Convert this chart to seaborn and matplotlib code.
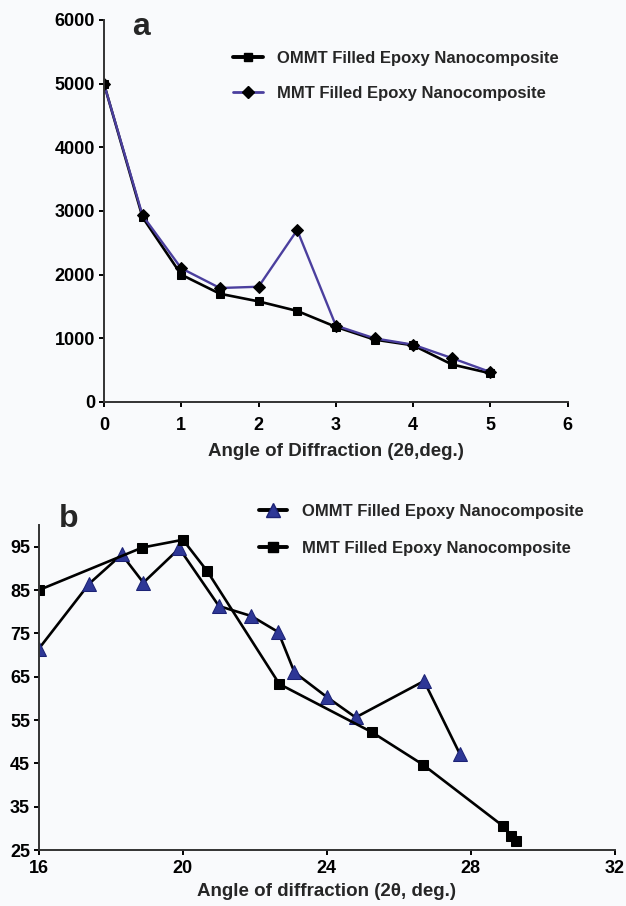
import numpy as np
import pandas as pd
import matplotlib
matplotlib.use("Agg")
import matplotlib.pyplot as plt
import seaborn as sns
from matplotlib.lines import Line2D

# ---- Data: panel a ----
angle_a = [0, 0.5, 1, 1.5, 2, 2.5, 3, 3.5, 4, 4.5, 5]
ommt_a = [5000, 2900, 2000, 1700, 1580, 1430, 1180, 980, 890, 590, 450]
mmt_a = [5000, 2930, 2100, 1790, 1810, 2700, 1200, 1000, 900, 690, 470]

# ---- Data: panel b ----
angle_b_ommt = [16.0, 17.4, 18.3, 18.9, 19.9, 21.0, 21.9, 22.65, 23.1, 24.0, 24.8, 26.7, 27.7]
ommt_b = [71.5, 86.5, 93.2, 86.7, 94.6, 81.3, 79.0, 75.3, 66.0, 60.3, 55.6, 64.0, 47.1]
angle_b_mmt = [16.0, 18.87, 20.0, 20.68, 22.68, 25.25, 26.67, 28.9, 29.13, 29.26]
mmt_b = [85.0, 94.8, 96.6, 89.3, 63.3, 52.2, 44.7, 30.5, 28.3, 27.1]

label_ommt = "OMMT Filled Epoxy Nanocomposite"
label_mmt = "MMT Filled Epoxy Nanocomposite"

sns.set_theme(style="ticks")
plt.rcParams['font.family'] = ['Liberation Sans', 'DejaVu Sans']
plt.rcParams['font.weight'] = 'bold'

bg = "#f9fafc"
blue_line = "#4b3f9e"
tri_fill = "#2e3796"
tri_edge = "#1c2275"
fig = plt.figure(figsize=(6.26, 9.06), dpi=100, facecolor=bg)

# ---------- panel a ----------
ax1 = fig.add_axes([0.166, 0.5563, 0.741, 0.4217], facecolor=bg)
dfa = pd.DataFrame({"x": angle_a, "ommt": ommt_a, "mmt": mmt_a})
sns.lineplot(data=dfa, x="x", y="ommt", ax=ax1, color="black", lw=1.9,
             marker="s", markersize=6, markeredgecolor="black", markerfacecolor="black")
sns.lineplot(data=dfa, x="x", y="mmt", ax=ax1, color=blue_line, lw=1.7,
             marker="D", markersize=6.5, markeredgecolor="black", markerfacecolor="black")
ax1.set_xlim(0, 6)
ax1.set_ylim(0, 6000)
ax1.set_xticks(range(0, 7))
ax1.set_yticks(range(0, 7000, 1000))
ax1.set_xlabel("Angle of Diffraction (2θ,deg.)", fontsize=13.5, fontweight="bold", labelpad=7)
ax1.set_ylabel("")
ax1.text(0.06, 0.961, "a", transform=ax1.transAxes, fontsize=23, fontweight="bold",
         va="baseline", ha="left")
h1 = [Line2D([], [], color="black", lw=2.8, marker="s", markersize=6, mfc="black", mec="black"),
      Line2D([], [], color=blue_line, lw=2.0, marker="D", markersize=6.5, mfc="black", mec="black")]
fig.legend(h1, [label_ommt, label_mmt], loc="upper left", bbox_to_anchor=(0.361, 0.951),
           bbox_transform=fig.transFigure, frameon=False, handlelength=1.85,
           handletextpad=0.84, labelspacing=1.2, borderaxespad=0,
           prop={"weight": "bold", "size": 12})

# ---------- panel b ----------
ax2 = fig.add_axes([0.0623, 0.0618, 0.9197, 0.3587], facecolor=bg)
dfb1 = pd.DataFrame({"x": angle_b_ommt, "y": ommt_b})
dfb2 = pd.DataFrame({"x": angle_b_mmt, "y": mmt_b})
sns.lineplot(data=dfb1, x="x", y="y", ax=ax2, color="black", lw=1.9, sort=False,
             marker="^", markersize=10.5, markeredgecolor=tri_edge, markerfacecolor=tri_fill)
sns.lineplot(data=dfb2, x="x", y="y", ax=ax2, color="black", lw=1.9, sort=False,
             marker="s", markersize=7, markeredgecolor="black", markerfacecolor="black")
ax2.set_xlim(16, 32)
ax2.set_ylim(25, 100)
ax2.set_xticks([16, 20, 24, 28, 32])
ax2.set_yticks(range(25, 100, 10))
ax2.set_xlabel("Angle of diffraction (2θ, deg.)", fontsize=13.5, fontweight="bold", labelpad=4)
ax2.set_ylabel("")
ax2.text(0.035, 0.994, "b", transform=ax2.transAxes, fontsize=23, fontweight="bold",
         va="baseline", ha="left")
h2 = [Line2D([], [], color="black", lw=2.8, marker="^", markersize=9.5, mfc=tri_fill, mec=tri_edge),
      Line2D([], [], color="black", lw=2.8, marker="s", markersize=6.5, mfc="black", mec="black")]
fig.legend(h2, [label_ommt, label_mmt], loc="upper left", bbox_to_anchor=(0.403, 0.4515),
           bbox_transform=fig.transFigure, frameon=False, handlelength=1.7,
           handletextpad=0.9, labelspacing=1.35, borderaxespad=0,
           prop={"weight": "bold", "size": 12})

for ax in (ax1, ax2):
    sns.despine(ax=ax)
    for s in ("left", "bottom"):
        ax.spines[s].set_linewidth(1.4)
        ax.spines[s].set_color("#333333")
    ax.tick_params(axis="both", direction="out", length=3.5, width=1.4,
                   labelsize=13, colors="black")
    ax.tick_params(axis="y", pad=3)
    for lab in ax.get_xticklabels() + ax.get_yticklabels():
        lab.set_fontweight("bold")
ax1.tick_params(axis="x", pad=7)
ax2.tick_params(axis="x", pad=4)

fig.savefig("out.png", dpi=100, facecolor=bg)
